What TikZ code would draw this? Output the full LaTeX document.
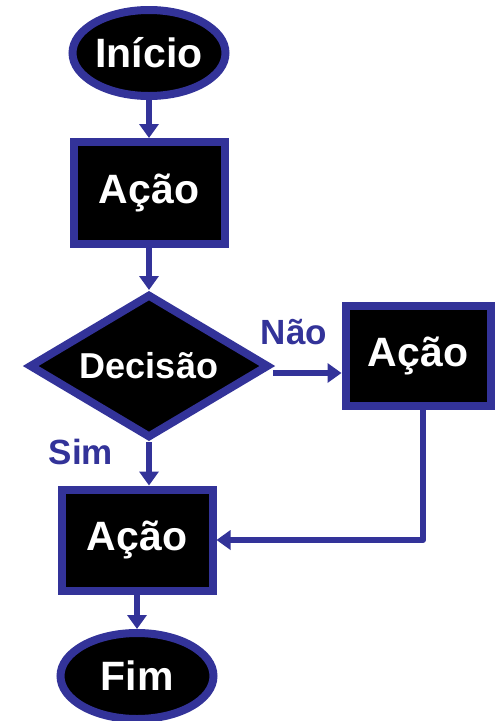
\documentclass[tikz,border=0pt]{standalone}
\usepackage{fontspec}
\setmainfont{Liberation Sans}
\usepackage{tikz}
\usetikzlibrary{positioning, arrows.meta, calc, shapes.geometric}

\definecolor{flowblue}{RGB}{51,51,153}

\begin{document}
\begin{tikzpicture}[
        x=1pt, y=-1pt,
        terminal/.style={draw=flowblue, ellipse, line width=8pt, fill=black, text=white, inner sep=0pt, minimum width=153pt, minimum height=86pt, font=\fontsize{41}{45}\selectfont\bfseries},
        actionbox/.style={draw=flowblue, rectangle, line width=8pt, fill=black, text=white, inner sep=0pt, font=\fontsize{41}{45}\selectfont\bfseries},
        decisionbox/.style={draw=flowblue, diamond, aspect=1.7, line width=8pt, fill=black, text=white, inner sep=0pt, minimum width=240pt, minimum height=144pt, font=\fontsize{36}{40}\selectfont\bfseries},
        arrow/.style={-{Triangle[width=19pt,length=14pt]}, line width=6pt, color=flowblue, line join=round},
        blue_label/.style={color=flowblue, font=\fontsize{35}{40}\selectfont\bfseries}
    ]
    \useasboundingbox (0,0) rectangle (495,721);

    % Flow nodes
    \node[terminal] (inicio) at (149, 53) {Início};
    \node[actionbox, minimum width=151pt, minimum height=102pt] (acao_a) at (149, 193) {Ação};
    \node[decisionbox] (decisao) at (149, 366) {Decisão};
    \node[actionbox, minimum width=145pt, minimum height=100pt] (acao_b) at (418, 356) {Ação};
    \node[actionbox, minimum width=151pt, minimum height=101pt] (acao_c) at (137, 540) {Ação};
    \node[terminal] (fim) at (137, 676) {Fim};

    % Arrows and labels
    \draw[arrow] (inicio) -- (acao_a);
    \draw[arrow] (acao_a) -- (decisao);
    \draw[arrow] ([yshift=-7pt]decisao.east) -- ([yshift=-7pt]decisao.east -| acao_b.west);
    \draw[arrow] (decisao.south) -- (decisao.south |- acao_c.north);
    \draw[arrow] ([xshift=5pt]acao_b.south) |- (acao_c.east);
    \draw[arrow] (acao_c) -- (fim);

    \node[blue_label] (nao) at (294, 332) {Não};
    \node[blue_label] (sim) at (81, 452) {Sim};
\end{tikzpicture}
\end{document}
